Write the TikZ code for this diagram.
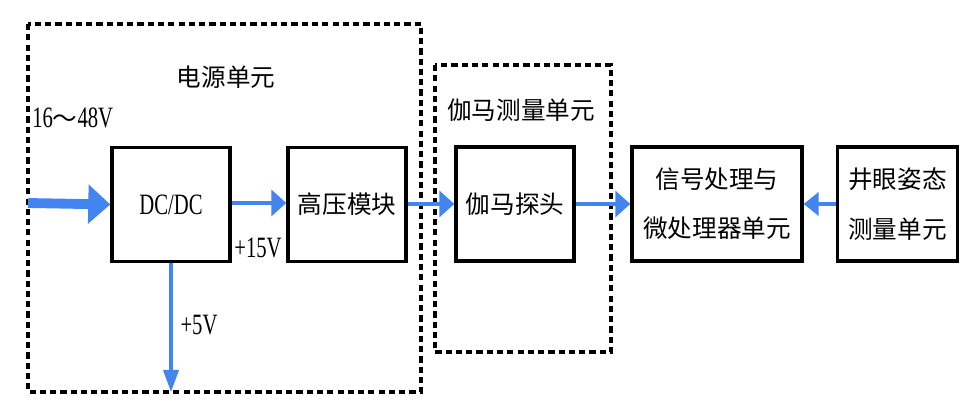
\documentclass[tikz,border=0pt]{standalone}
\usepackage{fontspec}
\setmainfont[FakeStretch=0.7, Scale=1.2]{Liberation Serif}
\newfontfamily\cjk{Noto Sans CJK SC}
\usetikzlibrary{arrows.meta}
\definecolor{flowblue}{RGB}{66,133,240}
\tikzset{
  block/.style={draw, line width=2.4pt, minimum height=2.85cm, inner sep=0pt, align=center},
  unitframe/.style={line width=2.6pt, dash pattern=on 4.4pt off 2.9pt},
  flow/.style={flowblue, line width=2.8pt, -{Triangle[length=0.375cm,width=0.65cm]}},
  tag/.style={inner sep=0pt},
}

\begin{document}
\begin{tikzpicture}[x=0.025cm, y=-0.025cm, font=\fontsize{17.5}{35}\selectfont]
\useasboundingbox (0,0) rectangle (969,413);

\draw[unitframe] (28,24) rectangle (421,392);
\draw[unitframe] (435,65) rectangle (611,352);

\node[tag] (power) at (226,77) {\cjk 电源单元};
\node[tag] (gamma) at (521,110) {\cjk 伽马测量单元};
\node[tag, anchor=west] (vinlabel) at (32,118) {16{\cjk ～}48V};

\node[block, minimum width=2.95cm] (dcdc) at (171,204.5) {DC/DC};
\node[block, minimum width=2.95cm] (hv) at (347,204.5) {\cjk 高压模块};
\node[block, minimum width=2.95cm] (probe) at (515,204) {\cjk 伽马探头};
\node[block, minimum width=4.25cm] (sig) at (717,204) {\cjk 信号处理与\\\cjk 微处理器单元};
\node[block, minimum width=3cm] (well) at (897.5,204) {\cjk 井眼姿态\\\cjk 测量单元};

\coordinate (vin) at (28,203);
\coordinate (out5) at (171,392);

\draw[flow, line width=7pt, -{Triangle[length=0.55cm,width=0.95cm]}] (vin) -- (dcdc.west);
\draw[flow] (dcdc.east |- 0,203) -- (hv.west |- 0,203);
\draw[flow] (hv.east |- 0,204) -- (probe.west |- 0,204);
\draw[flow] (probe) -- (sig);
\draw[flow, -{Triangle[length=0.375cm,width=0.58cm]}] (well) -- (sig);
\draw[flow, line width=2.2pt, -{Triangle[length=0.55cm,width=0.38cm]}] (dcdc.south) -- (out5);

\node[tag] (v15) at (258,248) {+15V};
\node[tag] (v5) at (199,325) {+5V};
\end{tikzpicture}
\end{document}
